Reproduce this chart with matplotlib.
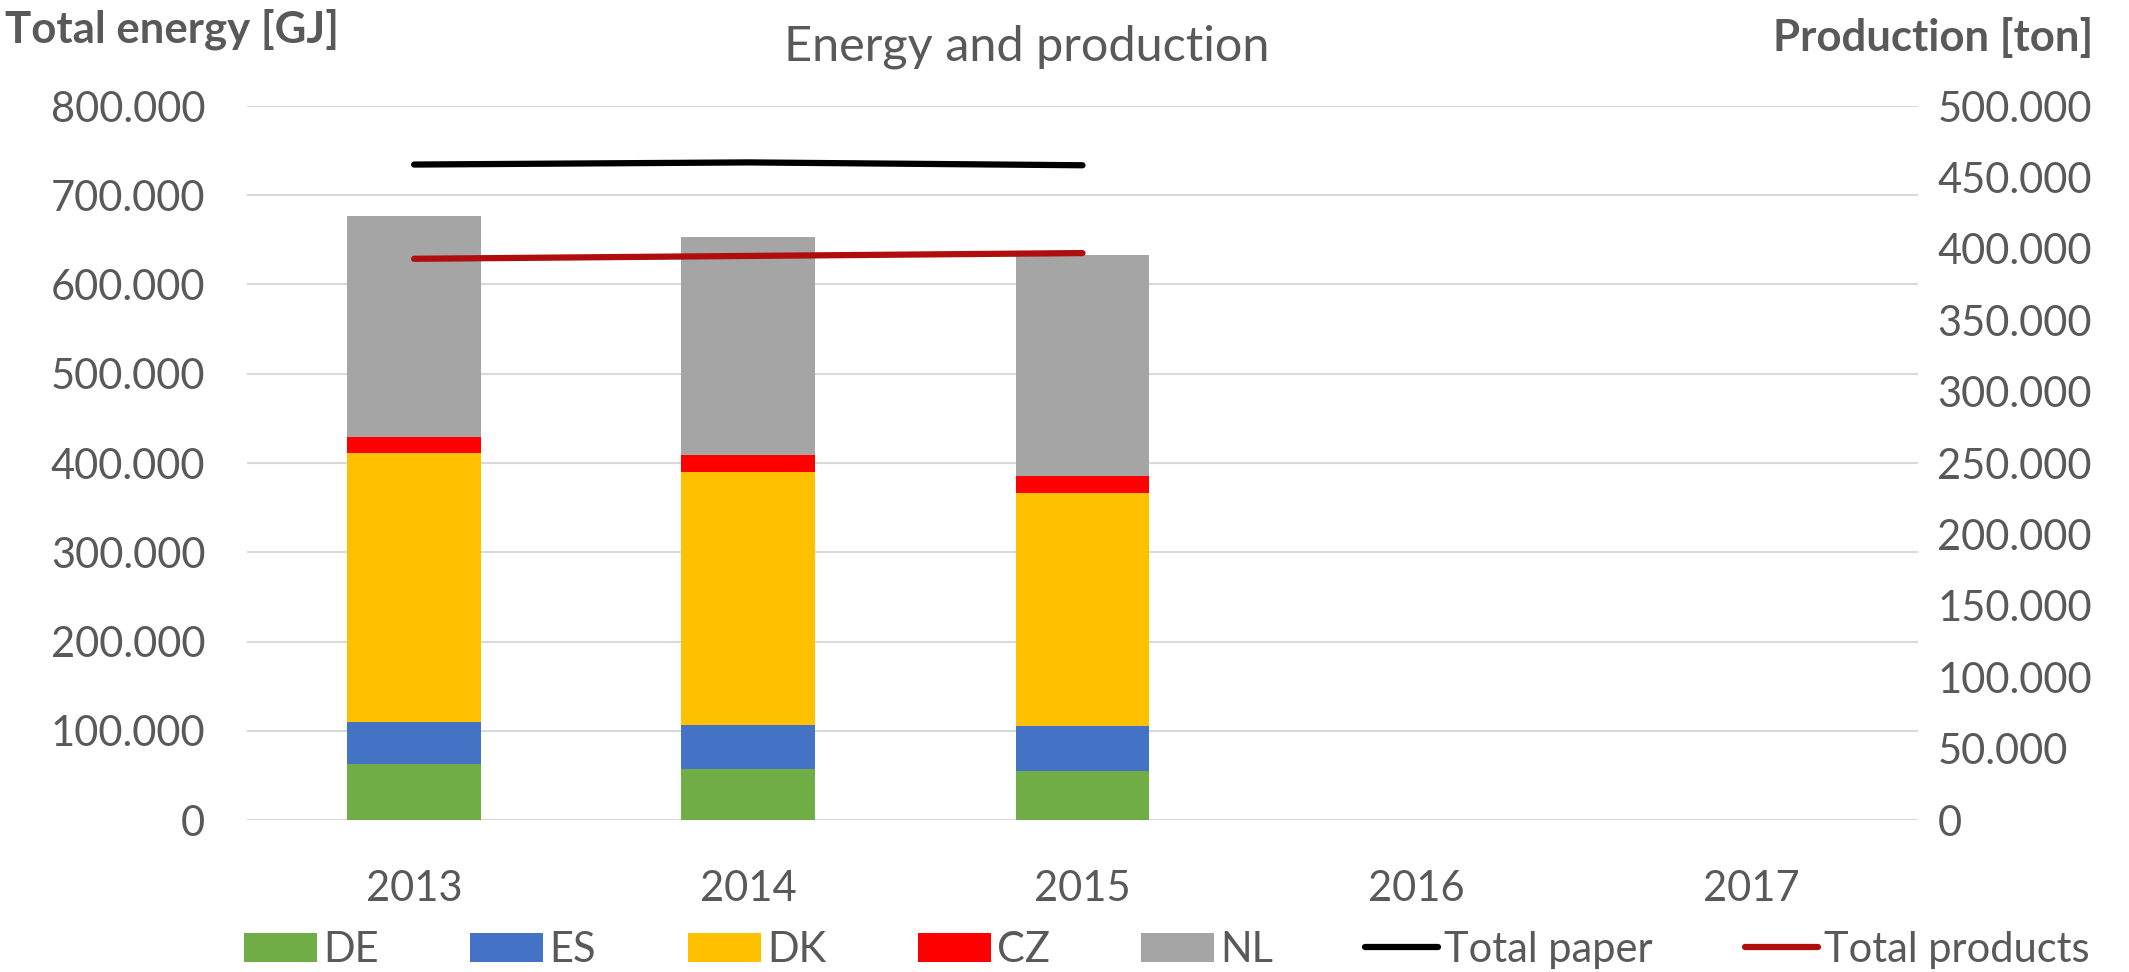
import numpy as np
import matplotlib
matplotlib.use("Agg")
import matplotlib.pyplot as plt
from matplotlib.ticker import FuncFormatter, MultipleLocator

# data
years = ["2013", "2014", "2015", "2016", "2017"]
de = [63000, 57000, 55000, 0, 0]
es = [47000, 50000, 50000, 0, 0]
dk = [301000, 283000, 261000, 0, 0]
cz = [18000, 19000, 19000, 0, 0]
nl = [248000, 244000, 248000, 0, 0]
total_paper = [459000, 460500, 458500, np.nan, np.nan]
total_products = [393000, 395000, 397000, np.nan, np.nan]

series = [("DE", de, "#70AD47"), ("ES", es, "#4472C4"), ("DK", dk, "#FFC000"),
          ("CZ", cz, "#FF0000"), ("NL", nl, "#A5A5A5")]

plt.rcParams['font.family'] = ['Lato', 'DejaVu Sans']
grey = "#595959"
fs = 30

fig = plt.figure(figsize=(21.29, 9.72), dpi=100)
ax = fig.add_axes([247/2129, 1 - 820/972, (1918 - 247)/2129, (820 - 106)/972])
ax2 = ax.twinx()

x = np.arange(len(years))
bottom = np.zeros(len(years))
handles = []
for name, vals, col in series:
    b = ax.bar(x, vals, width=0.4, bottom=bottom, color=col, label=name, zorder=2)
    bottom += np.array(vals)
    handles.append(b)

l1, = ax2.plot(x, total_paper, color="black", lw=4.5, label="Total paper", solid_capstyle="round")
l2, = ax2.plot(x, total_products, color="#B00E0E", lw=4.5, label="Total products", solid_capstyle="round")
handles += [l1, l2]

fmt = FuncFormatter(lambda v, p: f"{v:,.0f}".replace(",", "."))

ax.set_xlim(-0.5, len(years) - 0.5)
ax.set_ylim(0, 800000)
ax.yaxis.set_major_locator(MultipleLocator(100000))
ax.yaxis.set_major_formatter(fmt)
ax.set_xticks(x)
ax.set_xticklabels(years)
ax.grid(axis="y", color="#D9D9D9", lw=1.5, zorder=0)
ax.set_axisbelow(True)

ax2.set_ylim(0, 500000)
ax2.yaxis.set_major_locator(MultipleLocator(50000))
ax2.yaxis.set_major_formatter(fmt)

for a in (ax, ax2):
    for s in a.spines.values():
        s.set_visible(False)
    a.tick_params(length=0, labelsize=fs, labelcolor=grey)
ax.tick_params(axis="y", pad=30)
ax.tick_params(axis="x", pad=36)
ax2.tick_params(axis="y", pad=14)

fig.text(1027/2129, 1 - 47/972, "Energy and production", ha="center", va="center",
         fontsize=35, color=grey)
fig.text(5/2129, 1 - 29/972, "Total energy [GJ]", ha="left", va="center",
         fontsize=31.5, fontweight="bold", color=grey)
fig.text(2093/2129, 1 - 38/972, "Production [ton]", ha="right", va="center",
         fontsize=31.5, fontweight="bold", color=grey)

fig.legend(handles=handles, loc="center", bbox_to_anchor=(0.548, 1 - 950/972), ncol=7,
           frameon=False, fontsize=fs, handlelength=1.75, handleheight=0.7,
           handletextpad=0.15, columnspacing=2.2, labelcolor=grey)

fig.savefig("out.png", dpi=100)
